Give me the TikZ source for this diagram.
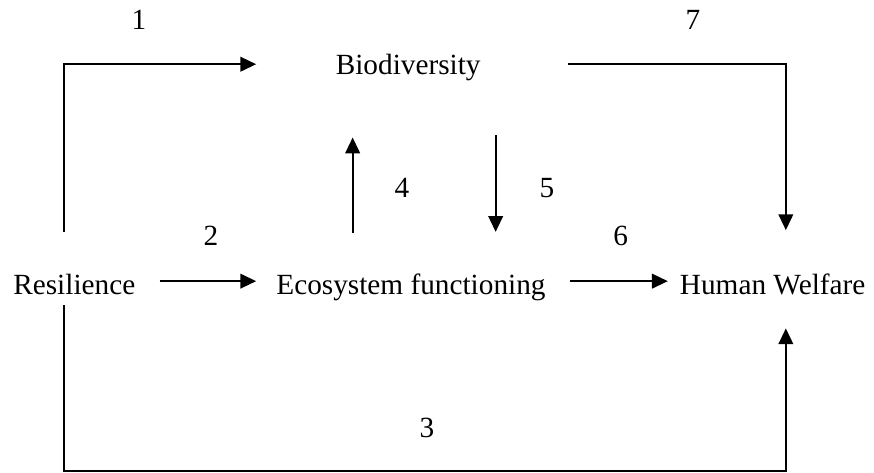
\documentclass[tikz,border=0pt]{standalone}
\usepackage{fontspec}
\setmainfont{Liberation Serif}
\usetikzlibrary{arrows.meta}

\begin{document}
\begin{tikzpicture}[
    lbl/.style={inner sep=0pt, anchor=base, font=\fontsize{12}{14}\selectfont},
    arr/.style={-{Triangle[length=6.5pt,width=6pt]}, line width=0.8pt}]
    \useasboundingbox (0,0) rectangle (12.59,6.80);

    % Nodes for the factors
    \node[lbl] (res) at (1.07,2.56) {Resilience};
    \node[lbl] (eco) at (5.92,2.56) {Ecosystem functioning};
    \node[lbl] (hw) at (11.13,2.56) {Human Welfare};
    \node[lbl] (bio) at (5.88,5.72) {Biodiversity};

    % Nodes for the arrow numbers
    \node[lbl] (n1) at (2.00,6.38) {1};
    \node[lbl] (n2) at (3.04,3.27) {2};
    \node[lbl] (n3) at (6.15,0.50) {3};
    \node[lbl] (n4) at (5.79,3.96) {4};
    \node[lbl] (n5) at (7.88,3.96) {5};
    \node[lbl] (n6) at (8.94,3.27) {6};
    \node[lbl] (n7) at (9.98,6.38) {7};

    % Arrow ends
    \coordinate (p1s) at (0.92,3.46);
    \coordinate (p1e) at (3.69,5.875);
    \coordinate (p2s) at (2.30,2.75);
    \coordinate (p2e) at (3.69,2.75);
    \coordinate (p3s) at (0.92,2.405);
    \coordinate (p3c) at (11.32,0.02);
    \coordinate (p3e) at (11.32,2.07);
    \coordinate (p4s) at (5.08,3.44);
    \coordinate (p4e) at (5.08,4.82);
    \coordinate (p5s) at (7.14,4.85);
    \coordinate (p5e) at (7.14,3.46);
    \coordinate (p6s) at (8.21,2.75);
    \coordinate (p6e) at (9.62,2.75);
    \coordinate (p7s) at (8.18,5.875);
    \coordinate (p7e) at (11.32,3.485);

    % Arrows
    \draw[arr] (p1s) |- (p1e);
    \draw[arr] (p2s) -- (p2e);
    \draw[arr] (p3s) |- (p3c) -- (p3e);
    \draw[arr] (p4s) -- (p4e);
    \draw[arr] (p5s) -- (p5e);
    \draw[arr] (p6s) -- (p6e);
    \draw[arr] (p7s) -| (p7e);
\end{tikzpicture}
\end{document}
